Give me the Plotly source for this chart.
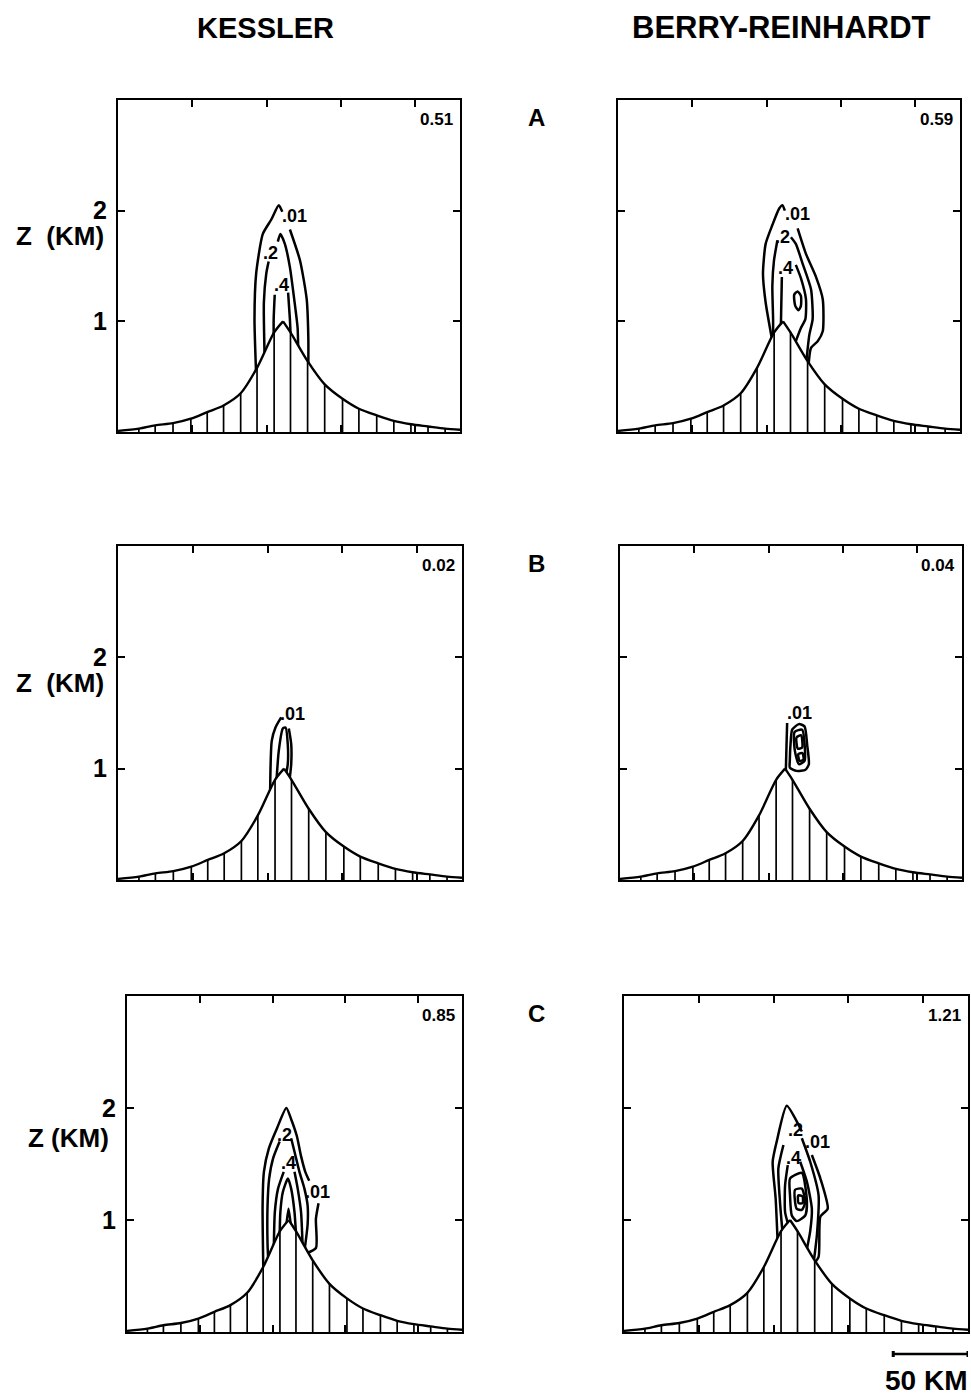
import plotly.graph_objects as go

W, H = 971, 1396

# ---------------- data ----------------
column_titles = ["KESSLER", "BERRY-REINHARDT"]
row_letters = ["A", "B", "C"]
kes_values = ["0.51", "0.02", "0.85"]
br_values = ["0.59", "0.04", "1.21"]
y_tick_vals = [1, 2]
y_tick_text = ["1", "2"]
x_tick_vals = [50, 100, 150, 200]
x_range_km = [0, 230]
z_range_km = [0, 3.0]
scale_bar_km = 50

# terrain profile (km) at the hatch positions, peak and ends
terrain_x = [0, 14, 25, 37, 49, 60, 71, 82.5, 93.5, 105, 111, 116, 127.5, 139, 151, 162, 174, 185.5, 197, 208.5, 220, 230]
terrain_z = [0.01, 0.03, 0.06, 0.08, 0.12, 0.18, 0.24, 0.35, 0.58, 0.90, 1.00, 0.90, 0.64, 0.43, 0.30, 0.21, 0.15, 0.10, 0.07, 0.05, 0.03, 0.02]

# --- Panel A, Kessler ---
kes_a_01_left_x = [92.9, 91.8, 92.9, 97.4, 103.1, 108.1, 110.5]
kes_a_01_left_z = [0.52, 1.02, 1.43, 1.79, 1.92, 2.05, 1.99]
kes_a_01_right_x = [115.6, 122.4, 126.9, 128.0, 128.0]
kes_a_01_right_z = [1.83, 1.55, 1.20, 0.85, 0.58]
kes_a_2_left_x = [98.6, 98.1, 99.7, 101.3]
kes_a_2_left_z = [0.68, 1.17, 1.43, 1.54]
kes_a_2_right_x = [107.5, 109.2, 112.2, 115.6, 118.5, 120.8, 121.2]
kes_a_2_right_z = [1.72, 1.79, 1.70, 1.49, 1.20, 0.94, 0.72]
kes_a_4_left_x = [105.4, 104.7, 104.7]
kes_a_4_left_z = [1.24, 1.02, 0.85]
kes_a_4_right_x = [114.4, 115.6, 116.2]
kes_a_4_right_z = [1.26, 1.02, 0.85]
kes_a_label_text = [".01", ".2", ".4"]
kes_a_label_x = [118.5, 102.7, 109.9]
kes_a_label_z = [1.95, 1.62, 1.33]

# --- Panel A, Berry-Reinhardt ---
br_a_01_left_x = [103.8, 99.3, 97.5, 99.3, 103.8, 108.4, 110.6, 112.2]
br_a_01_left_z = [0.82, 1.17, 1.43, 1.70, 1.87, 2.02, 2.05, 2.00]
br_a_01_right_x = [120.8, 126.4, 133.2, 137.7, 137.7, 134.3, 129.8, 128.0]
br_a_01_right_z = [1.84, 1.61, 1.40, 1.20, 0.91, 0.82, 0.76, 0.58]
br_a_2_left_x = [107.2, 104.9, 103.8, 104.3, 104.3]
br_a_2_left_z = [1.73, 1.55, 1.32, 1.02, 0.84]
br_a_2_right_x = [116.3, 119.6, 124.2, 129.8, 130.9, 128.7, 126.5]
br_a_2_right_z = [1.76, 1.70, 1.52, 1.29, 1.02, 0.88, 0.62]
br_a_4_left_x = [110.2, 109.5]
br_a_4_left_z = [1.40, 0.93]
br_a_4_right_x = [119.6, 123.0, 126.4, 126.0, 123.0, 119.0]
br_a_4_right_z = [1.51, 1.39, 1.20, 1.02, 0.94, 0.80]
br_a_6_x = [118.5, 120.8, 123.0, 123.0, 121.4, 119.2, 118.5]
br_a_6_z = [1.24, 1.27, 1.23, 1.14, 1.10, 1.14, 1.24]
br_a_label_text = [".01", ".2", ".4"]
br_a_label_x = [120.5, 110.4, 112.9]
br_a_label_z = [1.97, 1.76, 1.48]

# --- Panel B, Kessler ---
kes_b_01_outer_left_x = [101.7, 102.8, 105.3, 109.1]
kes_b_01_outer_left_z = [0.78, 1.25, 1.37, 1.46]
kes_b_01_outer_right_x = [114.2, 115.8, 115.8, 114.7]
kes_b_01_outer_right_z = [1.36, 1.22, 1.04, 0.90]
kes_b_01_inner_x = [106.0, 107.5, 110.2, 112.0, 113.5, 113.5, 112.4]
kes_b_01_inner_z = [0.90, 1.16, 1.36, 1.37, 1.22, 1.04, 0.95]
kes_b_label_text = [".01"]
kes_b_label_x = [116.5]
kes_b_label_z = [1.49]

# --- Panel B, Berry-Reinhardt ---
br_b_01_stem_x = [111.5, 112.4]
br_b_01_stem_z = [0.97, 1.41]
br_b_01_loop_x = [114.2, 118.7, 124.7, 127.0, 125.9, 124.1, 120.3, 115.8, 114.7, 114.2, 114.2]
br_b_01_loop_z = [1.01, 0.98, 0.99, 1.04, 1.21, 1.38, 1.40, 1.35, 1.22, 1.07, 1.01]
br_b_l2_x = [117.4, 122.5, 124.3, 124.1, 120.3, 117.6, 117.4]
br_b_l2_z = [1.33, 1.35, 1.19, 1.07, 1.04, 1.16, 1.33]
br_b_l3_x = [118.7, 121.8, 122.5, 119.6, 118.7]
br_b_l3_z = [1.28, 1.30, 1.19, 1.18, 1.28]
br_b_l4_x = [119.9, 122.7, 123.4, 120.8, 119.9]
br_b_l4_z = [1.13, 1.14, 1.08, 1.07, 1.13]
br_b_label_text = [".01"]
br_b_label_x = [121.0]
br_b_label_z = [1.50]

# --- Panel C, Kessler ---
kes_c_01_left_x = [93.6, 93.1, 94.0, 97.4, 103.0, 109.4, 112.7, 116.6, 119.5, 122.4, 125.1]
kes_c_01_left_z = [0.55, 1.13, 1.43, 1.64, 1.82, 2.00, 1.90, 1.75, 1.57, 1.43, 1.35]
kes_c_01_right_x = [131.5, 129.7, 129.7, 122.5]
kes_c_01_right_z = [1.15, 1.01, 0.75, 0.70]
kes_c_2_left_x = [104.8, 100.3, 97.6, 96.5, 96.5, 97.0]
kes_c_2_left_z = [1.70, 1.55, 1.37, 1.13, 0.78, 0.64]
kes_c_2_right_x = [112.7, 115.0, 118.4, 121.8, 124.0, 124.0, 121.8]
kes_c_2_right_z = [1.73, 1.61, 1.43, 1.28, 1.13, 0.96, 0.72]
kes_c_4_left_x = [107.6, 103.7, 101.5, 100.8]
kes_c_4_left_z = [1.43, 1.28, 1.07, 0.75]
kes_c_4_right_x = [115.0, 117.2, 119.5, 120.6]
kes_c_4_right_z = [1.43, 1.28, 1.07, 0.75]
kes_c_6_x = [104.8, 105.3, 107.0, 110.5, 112.7, 115.0, 116.1]
kes_c_6_z = [0.85, 1.07, 1.25, 1.37, 1.28, 1.07, 0.86]
kes_c_8_x = [109.4, 110.9, 112.7]
kes_c_8_z = [0.95, 1.10, 0.93]
kes_c_label_text = [".2", ".4", ".01"]
kes_c_label_x = [108.2, 111.2, 131.0]
kes_c_label_z = [1.76, 1.51, 1.25]

# --- Panel C, Berry-Reinhardt ---
br_c_01_left_x = [102.8, 101.4, 99.4, 102.1, 108.8, 116.7, 118.9]
br_c_01_left_z = [0.78, 1.19, 1.52, 1.70, 2.02, 1.85, 1.79]
br_c_01_right_x = [125.6, 131.3, 136.2, 131.3, 130.1, 126.5]
br_c_01_right_z = [1.58, 1.37, 1.10, 1.03, 0.67, 0.60]
br_c_2_left_x = [106.6, 103.2, 104.3, 106.1]
br_c_2_left_z = [1.67, 1.46, 1.16, 0.87]
br_c_2_right_x = [118.9, 124.5, 130.1, 129.0, 126.8]
br_c_2_right_z = [1.73, 1.52, 1.22, 0.87, 0.62]
br_c_4_left_x = [109.5, 107.7, 107.7, 110.0]
br_c_4_left_z = [1.49, 1.31, 1.07, 0.95]
br_c_4_right_x = [117.8, 122.3, 125.6, 124.5, 122.3]
br_c_4_right_z = [1.52, 1.34, 1.10, 0.90, 0.74]
br_c_6_x = [111.0, 118.9, 122.3, 121.2, 115.5, 112.2, 111.0, 111.0]
br_c_6_z = [1.37, 1.42, 1.16, 1.04, 0.99, 1.04, 1.22, 1.37]
br_c_8_x = [114.4, 118.9, 121.2, 118.9, 115.5, 114.4, 114.4]
br_c_8_z = [1.27, 1.28, 1.16, 1.09, 1.10, 1.16, 1.27]
br_c_10_x = [116.5, 119.4, 119.4, 116.7, 116.5]
br_c_10_z = [1.22, 1.21, 1.15, 1.15, 1.22]
br_c_label_text = [".2", ".01", ".4"]
br_c_label_x = [114.4, 129.5, 113.3]
br_c_label_z = [1.80, 1.70, 1.55]

# ---------------- assemble ----------------
panel_lines = [
    [(kes_a_01_left_x, kes_a_01_left_z), (kes_a_01_right_x, kes_a_01_right_z),
     (kes_a_2_left_x, kes_a_2_left_z), (kes_a_2_right_x, kes_a_2_right_z),
     (kes_a_4_left_x, kes_a_4_left_z), (kes_a_4_right_x, kes_a_4_right_z)],
    [(br_a_01_left_x, br_a_01_left_z), (br_a_01_right_x, br_a_01_right_z),
     (br_a_2_left_x, br_a_2_left_z), (br_a_2_right_x, br_a_2_right_z),
     (br_a_4_left_x, br_a_4_left_z), (br_a_4_right_x, br_a_4_right_z),
     (br_a_6_x, br_a_6_z)],
    [(kes_b_01_outer_left_x, kes_b_01_outer_left_z), (kes_b_01_outer_right_x, kes_b_01_outer_right_z),
     (kes_b_01_inner_x, kes_b_01_inner_z)],
    [(br_b_01_stem_x, br_b_01_stem_z), (br_b_01_loop_x, br_b_01_loop_z),
     (br_b_l2_x, br_b_l2_z), (br_b_l3_x, br_b_l3_z), (br_b_l4_x, br_b_l4_z)],
    [(kes_c_01_left_x, kes_c_01_left_z), (kes_c_01_right_x, kes_c_01_right_z),
     (kes_c_2_left_x, kes_c_2_left_z), (kes_c_2_right_x, kes_c_2_right_z),
     (kes_c_4_left_x, kes_c_4_left_z), (kes_c_4_right_x, kes_c_4_right_z),
     (kes_c_6_x, kes_c_6_z), (kes_c_8_x, kes_c_8_z)],
    [(br_c_01_left_x, br_c_01_left_z), (br_c_01_right_x, br_c_01_right_z),
     (br_c_2_left_x, br_c_2_left_z), (br_c_2_right_x, br_c_2_right_z),
     (br_c_4_left_x, br_c_4_left_z), (br_c_4_right_x, br_c_4_right_z),
     (br_c_6_x, br_c_6_z), (br_c_8_x, br_c_8_z), (br_c_10_x, br_c_10_z)],
]
panel_labels = [
    (kes_a_label_text, kes_a_label_x, kes_a_label_z),
    (br_a_label_text, br_a_label_x, br_a_label_z),
    (kes_b_label_text, kes_b_label_x, kes_b_label_z),
    (br_b_label_text, br_b_label_x, br_b_label_z),
    (kes_c_label_text, kes_c_label_x, kes_c_label_z),
    (br_c_label_text, br_c_label_x, br_c_label_z),
]
panel_values = [kes_values[0], br_values[0], kes_values[1], br_values[1], kes_values[2], br_values[2]]

# panel boxes in pixels: left, right, top, bottom
panel_px = [
    (118, 460, 100, 432), (618, 960, 100, 432),
    (118, 462, 546, 880), (620, 962, 546, 880),
    (127, 462, 996, 1332), (624, 968, 996, 1332),
]

BOLD = "Liberation Sans, Arial, Helvetica, sans-serif"

def px2x(p):
    return p / W

def px2y(p):
    return 1 - p / H

def note(px, py, text, size, xanchor="center", yanchor="middle"):
    return dict(x=px2x(px), y=px2y(py), xref="paper", yref="paper", text="<b>%s</b>" % text,
                showarrow=False, xanchor=xanchor, yanchor=yanchor,
                font=dict(family=BOLD, size=size, color="black"))

peak_i = terrain_z.index(max(terrain_z))
left_x, left_z = terrain_x[:peak_i + 1], terrain_z[:peak_i + 1]
right_x, right_z = terrain_x[peak_i:], terrain_z[peak_i:]
hatch_x, hatch_z = [], []
for i, (hx, hz) in enumerate(zip(terrain_x, terrain_z)):
    if i in (0, peak_i, len(terrain_x) - 1):
        continue
    hatch_x += [hx, hx, None]
    hatch_z += [0, hz, None]

fig = go.Figure()
layout = dict(width=W, height=H, margin=dict(l=0, r=0, t=0, b=0), autosize=False,
              paper_bgcolor="white", plot_bgcolor="white", showlegend=False)
annotations = []
shapes = []

for k in range(6):
    sfx = "" if k == 0 else str(k + 1)
    xa, ya = "x" + sfx, "y" + sfx
    l, r, t, b = panel_px[k]
    layout["xaxis" + sfx] = dict(domain=[px2x(l), px2x(r)], range=x_range_km, anchor=ya,
                                 showgrid=False, zeroline=False, showline=True, linecolor="black",
                                 linewidth=2, mirror="ticks", ticks="inside", ticklen=7, tickwidth=2,
                                 tickcolor="black", tickvals=x_tick_vals, showticklabels=False)
    layout["yaxis" + sfx] = dict(domain=[px2y(b), px2y(t)], range=z_range_km, anchor=xa,
                                 showgrid=False, zeroline=False, showline=True, linecolor="black",
                                 linewidth=2, mirror="ticks", ticks="inside", ticklen=7, tickwidth=2,
                                 tickcolor="black", tickvals=y_tick_vals,
                                 ticktext=["<b>%s</b>" % s for s in y_tick_text],
                                 showticklabels=(k % 2 == 0), ticklabelstandoff=4,
                                 tickfont=dict(family=BOLD, size=25, color="black"))
    # contour lines
    for cx, cz in panel_lines[k]:
        fig.add_trace(go.Scatter(x=cx, y=cz, mode="lines", xaxis=xa, yaxis=ya,
                                 line=dict(color="black", width=2.5, shape="spline", smoothing=0.6),
                                 hoverinfo="skip"))
    # terrain mask + line
    for tx, tz in ((left_x, left_z), (right_x, right_z)):
        fig.add_trace(go.Scatter(x=tx, y=tz, mode="lines", fill="tozeroy", fillcolor="white",
                                 xaxis=xa, yaxis=ya,
                                 line=dict(color="black", width=2.4, shape="spline", smoothing=0.8),
                                 hoverinfo="skip"))
    fig.add_trace(go.Scatter(x=hatch_x, y=hatch_z, mode="lines", xaxis=xa, yaxis=ya,
                             line=dict(color="black", width=1.7), hoverinfo="skip"))
    # contour labels
    txt, lx, lz = panel_labels[k]
    for s, x0, z0 in zip(txt, lx, lz):
        annotations.append(dict(x=x0, y=z0, xref=xa, yref=ya, text="<b>%s</b>" % s, showarrow=False,
                                xanchor="center", yanchor="middle",
                                font=dict(family=BOLD, size=18, color="black")))
    # value in top-right corner
    annotations.append(note(r - 5, t + 8, panel_values[k], 17, xanchor="right", yanchor="top"))
    if k % 2 == 0:
        zc = (t + b) / 2 - 30
        if k < 4:
            annotations.append(note(60, zc, "Z&nbsp;&nbsp;(KM)", 26))
        else:
            annotations.append(note(68, zc + 4, "Z (KM)", 26))
        annotations.append(note(536, t + 17, row_letters[k // 2], 24))

for txt, cx, fs in zip(column_titles, (265, 781), (29, 31)):
    annotations.append(note(cx, 28, txt, fs))

# scale bar under the last panel
shapes.append(dict(type="line", xref="x6", yref="paper", x0=x_range_km[1] - scale_bar_km,
                   x1=x_range_km[1], y0=px2y(1354), y1=px2y(1354), line=dict(color="black", width=2.5)))
for xe in (x_range_km[1] - scale_bar_km, x_range_km[1]):
    shapes.append(dict(type="line", xref="x6", yref="paper", x0=xe, x1=xe,
                       y0=px2y(1351), y1=px2y(1357), line=dict(color="black", width=3)))
annotations.append(note(926, 1380, "%d KM" % scale_bar_km, 28))

layout["annotations"] = annotations
layout["shapes"] = shapes
fig.update_layout(**layout)
fig.write_html("out.html", config={"displayModeBar": False},
               post_script="document.body.style.margin='0';document.body.style.overflow='hidden';")
